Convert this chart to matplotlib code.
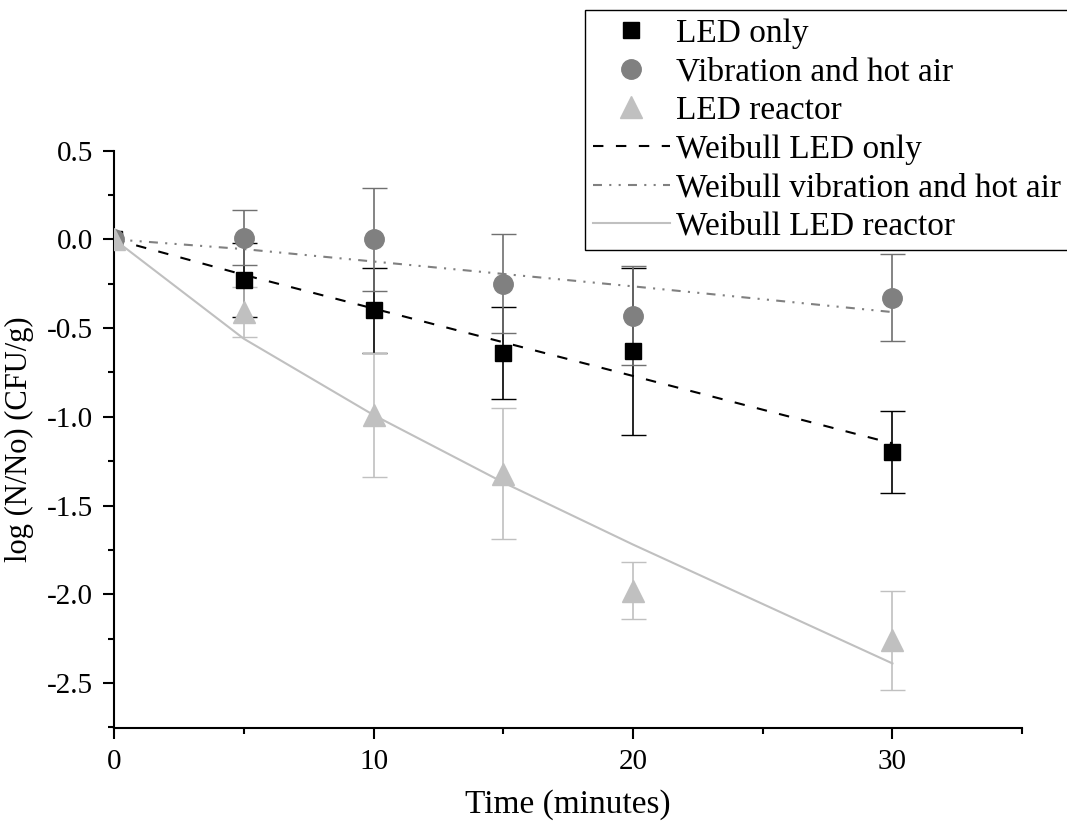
import numpy as np
import matplotlib.pyplot as plt
from matplotlib.ticker import MultipleLocator

plt.rcParams['font.family'] = ['Liberation Serif', 'DejaVu Serif']
plt.rcParams['axes.unicode_minus'] = False

t = [0, 5, 10, 15, 20, 30]

# measured means and error bars
led_only = [0, -0.23, -0.40, -0.64, -0.63, -1.20]
led_only_err = [0, 0.21, 0.24, 0.26, 0.47, 0.23]
vib_air = [0, 0.01, 0.0, -0.25, -0.43, -0.33]
vib_air_err = [0, 0.155, 0.29, 0.28, 0.28, 0.245]
led_reactor = [0, -0.41, -0.99, -1.32, -1.98, -2.26]
led_reactor_err = [0, 0.14, 0.35, 0.37, 0.16, 0.28]

# weibull fits
wb_led_only = [0, -0.20, -0.39, -0.58, -0.77, -1.15]
wb_vib_air = [0, -0.055, -0.125, -0.195, -0.265, -0.41]
wb_led_reactor = [0, -0.56, -0.99, -1.37, -1.72, -2.39]

labels = ["LED only", "Vibration and hot air", "LED reactor",
          "Weibull LED only", "Weibull vibration and hot air", "Weibull LED reactor"]

black = "#000000"
gray = "#808080"
light = "#c0c0c0"
dash = (5, 6)
dashdotdot = (4.3, 3.5, 1, 3.5, 1, 3.5)

fig = plt.figure(figsize=(10.67, 8.23), dpi=100)
ax = fig.add_axes([0.1069, 0.1154, 0.958 - 0.1069, 0.817 - 0.1154])

ax.errorbar(t[1:], led_only[1:], yerr=led_only_err[1:], fmt='none', ecolor=black, elinewidth=1.2, capsize=9, zorder=2)
ax.errorbar(t[1:], vib_air[1:], yerr=vib_air_err[1:], fmt='none', ecolor="#707070", elinewidth=1.2, capsize=9, zorder=2)
ax.errorbar(t[1:], led_reactor[1:], yerr=led_reactor_err[1:], fmt='none', ecolor=light, elinewidth=1.2, capsize=9, zorder=2)

ax.plot(t, wb_led_only, color=black, lw=1.5, dashes=dash, zorder=3)
ax.plot(t, wb_vib_air, color=gray, lw=1.5, dashes=dashdotdot, zorder=3)
ax.plot(t, wb_led_reactor, color=light, lw=1.5, zorder=3)

ax.plot(t, led_only, 's', color=black, ms=12, zorder=4)
ax.plot(t, vib_air, 'o', color=gray, ms=14, zorder=4)
ax.plot(t, led_reactor, '^', color=light, ms=16, zorder=4)

h = [
    plt.Line2D([], [], marker='s', color=black, ms=12, ls='none'),
    plt.Line2D([], [], marker='o', color=gray, ms=14, ls='none'),
    plt.Line2D([], [], marker='^', color=light, ms=16, ls='none'),
    plt.Line2D([], [], color=black, lw=1.5, dashes=dash),
    plt.Line2D([], [], color=gray, lw=1.5, dashes=dashdotdot),
    plt.Line2D([], [], color=light, lw=1.5),
]
leg = fig.legend(h, labels, loc='upper left', bbox_to_anchor=(0.548, 0.988),
                 bbox_transform=fig.transFigure, fontsize=24, frameon=True,
                 fancybox=False, edgecolor=black, framealpha=1, borderpad=0.25,
                 labelspacing=0.24, handlelength=2.3, handletextpad=0.2, borderaxespad=0)
leg.get_frame().set_linewidth(1.0)

ax.set_xlim(0, 35)
ax.set_ylim(-2.754, 0.5)
ax.xaxis.set_major_locator(MultipleLocator(10))
ax.xaxis.set_minor_locator(MultipleLocator(5))
ax.yaxis.set_major_locator(MultipleLocator(0.5))
ax.yaxis.set_minor_locator(MultipleLocator(0.25))
ax.yaxis.set_major_formatter(plt.FuncFormatter(lambda v, p: f"{v:.1f}"))

ax.spines['top'].set_visible(False)
ax.spines['right'].set_visible(False)
ax.spines['left'].set_linewidth(1.5)
ax.spines['bottom'].set_linewidth(1.5)
ax.tick_params(which='major', direction='out', length=8, width=1.5, labelsize=21, pad=7)
ax.tick_params(which='minor', direction='out', length=4, width=1.5)

ax.set_xlabel("Time (minutes)", fontsize=24, labelpad=10)
ax.set_ylabel("log (N/No) (CFU/g)", fontsize=22, labelpad=9)

fig.savefig("out.png", dpi=100)
